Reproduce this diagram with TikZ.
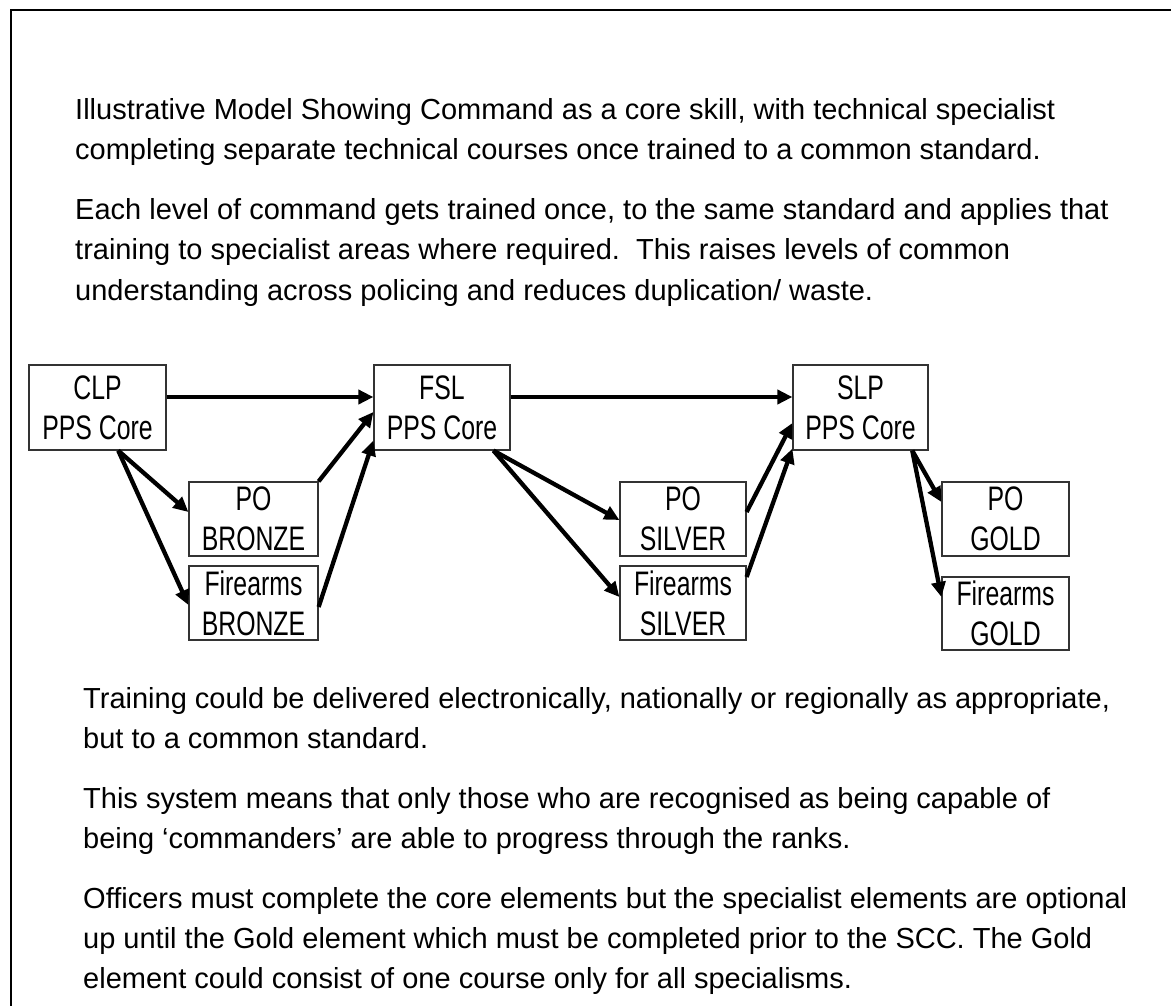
\documentclass[tikz,border=0pt]{standalone}
\usepackage{fontspec}
\setmainfont{Liberation Sans}
\newfontfamily\boxfont[FakeStretch=0.73]{Liberation Sans}
\usetikzlibrary{arrows.meta,calc}
\begin{document}
\begin{tikzpicture}[x=1bp,y=-1bp,
  stagebox/.style={draw=black!80, line width=1.2bp, inner sep=0pt, align=center,
    font=\boxfont\fontsize{34bp}{40bp}\selectfont},
  corebox/.style={stagebox, minimum width=136bp, minimum height=85bp},
  specbox/.style={stagebox, minimum width=128bp, minimum height=74bp},
  arr/.style={line width=4.3bp, -{Triangle[length=15bp,width=14bp]}},
  txt/.style={inner sep=0pt, anchor=base west, font=\fontsize{29bp}{40bp}\selectfont}]
\useasboundingbox (0,0) rectangle (1171,1006);
\fill[white] (0,0) rectangle (1171,1006);
\draw[line width=2bp] (11,1006) -- (11,10) -- (1171,10);

% top paragraphs
\node[txt] (t1) at (75,119) {Illustrative Model Showing Command as a core skill, with technical specialist};
\node[txt] (t2) at (75,159) {completing separate technical courses once trained to a common standard.};
\node[txt] (t3) at (75,219) {Each level of command gets trained once, to the same standard and applies that};
\node[txt] (t4) at (75,259.5) {training to specialist areas where required.\ \ This raises levels of common};
\node[txt] (t5) at (75,300) {understanding across policing and reduces duplication/ waste.};

% boxes
\node[corebox, minimum width=137bp] (clp) at (97.5,407.5) {CLP\\PPS Core};
\node[corebox] (fsl) at (442,407.5) {FSL\\PPS Core};
\node[corebox, minimum width=135bp] (slp) at (860.5,407.5) {SLP\\PPS Core};
\node[specbox, minimum width=129bp] (pob) at (253.5,519) {PO\\BRONZE};
\node[specbox, minimum width=129bp] (fab) at (253.5,603) {Firearms\\BRONZE};
\node[specbox, minimum width=126bp] (pos) at (683,519) {PO\\SILVER};
\node[specbox, minimum width=126bp] (fas) at (683,603) {Firearms\\SILVER};
\node[specbox, minimum width=127bp] (pog) at (1005.5,519) {PO\\GOLD};
\node[specbox, minimum width=127bp, minimum height=73bp] (fag) at (1005.5,613.5) {Firearms\\GOLD};

% connectors
\coordinate (clpb) at ($(clp.south west)!0.65!(clp.south east)$);
\coordinate (fslb) at ($(fsl.south west)!0.875!(fsl.south east)$);
\coordinate (slpb) at ($(slp.south west)!0.88!(slp.south east)$);
\draw[arr] ([yshift=10.5bp]clp.east) -- ([yshift=10.5bp]fsl.west);
\draw[arr] ([yshift=10.5bp]fsl.east) -- ([yshift=10.5bp]slp.west);
\draw[arr] (clpb) -- ([yshift=7bp]pob.west);
\draw[arr] (clpb) -- ([yshift=-2bp]fab.west);
\draw[arr] (pob.north east) -- ([yshift=-4.5bp]fsl.west);
\draw[arr] ([yshift=-4bp]fab.east) -- ([yshift=10bp]fsl.south west);
\draw[arr] (fslb) -- ([yshift=-1bp]pos.west);
\draw[arr] (fslb) -- ([yshift=6bp]fas.west);
\draw[arr] ([yshift=7bp]pos.east) -- ([yshift=-15.5bp]slp.west);
\draw[arr] ([yshift=26bp]fas.east) -- ([yshift=2bp]slp.south west);
\draw[arr] (slpb) -- ([yshift=17bp]pog.west);
\draw[arr] (slpb) -- ([yshift=16.5bp]fag.west);

% bottom paragraphs
\node[txt] (b1) at (83,708) {Training could be delivered electronically, nationally or regionally as appropriate,};
\node[txt] (b2) at (83,748) {but to a common standard.};
\node[txt] (b3) at (83,808) {This system means that only those who are recognised as being capable of};
\node[txt] (b4) at (83,848) {being ‘commanders’ are able to progress through the ranks.};
\node[txt] (b5) at (83,908) {Officers must complete the core elements but the specialist elements are optional};
\node[txt] (b6) at (83,948) {up until the Gold element which must be completed prior to the SCC. The Gold};
\node[txt] (b7) at (83,988) {element could consist of one course only for all specialisms.};
\end{tikzpicture}
\end{document}
